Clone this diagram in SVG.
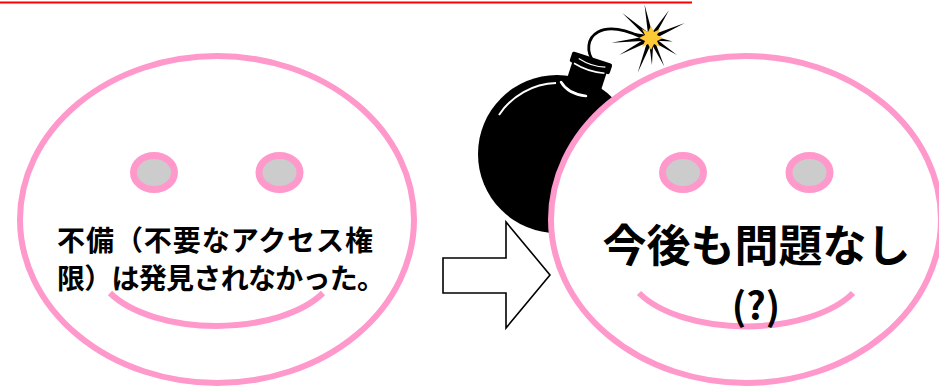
<svg xmlns="http://www.w3.org/2000/svg" width="939" height="387" viewBox="0 0 939 387">
  <style>
    .face { fill: #ffffff; stroke: #ff99cc; stroke-width: 6; }
    .eye { fill: #cccccc; stroke: #ff99cc; stroke-width: 7; }
    .mouth { fill: none; stroke: #ff99cc; stroke-width: 6; }
    .label { font-family: "Noto Sans CJK JP", "Liberation Sans", sans-serif; font-weight: bold; fill: #000000; }
    .arrow { fill: #ffffff; stroke: #000000; stroke-width: 1.6; stroke-linejoin: miter; }
    .spike { fill: #000000; }
  </style>

  <!-- Left smiley: current state -->
  <g id="face-now">
    <ellipse class="face" cx="217" cy="219.5" rx="197" ry="163.5"/>
    <ellipse class="eye" cx="154" cy="172.5" rx="20.5" ry="17"/>
    <ellipse class="eye" cx="279.5" cy="172.5" rx="20.5" ry="17"/>
    <path class="mouth" d="M110,293 A120,61 0 0 0 323,293"/>
    <text class="label" font-size="28" x="57" y="251" textLength="316" lengthAdjust="spacing">不備（不要なアクセス権</text>
    <text class="label" font-size="28" x="57" y="289" textLength="328" lengthAdjust="spacing">限）は発見されなかった。</text>
  </g>

  <!-- Block arrow between the two faces -->
  <g id="connectors">
    <polygon class="arrow" points="443,258 506,258 506,222 550,275 506,328 506,293 443,293"/>
  </g>

  <!-- Bomb with lit fuse, partly behind the right face -->
  <g id="bomb">
    <circle cx="557" cy="154" r="79" fill="#000000"/>
    <!-- neck and cap -->
    <g transform="rotate(18 588 72)">
      <rect x="570" y="66" width="36" height="22" fill="#000000"/>
      <rect x="567" y="57" width="42" height="11" rx="2" fill="#000000"/>
      <path d="M572,68 Q588,72 604,68" fill="none" stroke="#ffffff" stroke-width="1.5"/>
      <path d="M575,62 Q590,66 603,62" fill="none" stroke="#ffffff" stroke-width="1.2"/>
    </g>
    <!-- highlights -->
    <path d="M499,115 A71,71 0 0 1 556,83" fill="none" stroke="#ffffff" stroke-width="2"/>
    <path d="M561,82 Q568,94 586,96" fill="none" stroke="#ffffff" stroke-width="2.5" stroke-linecap="round"/>
    <path d="M607,83 L627,88" fill="none" stroke="#ffffff" stroke-width="1.5"/>
    <!-- fuse -->
    <path d="M594,62 C586,52 587,38 598,32 C609,26 626,30 641,37" fill="none" stroke="#000000" stroke-width="2.8" stroke-linecap="round"/>
    <!-- spark -->
    <g transform="translate(651 38)">
      <polygon class="spike" points="0,-2.5 34,0 0,2.5" transform="rotate(-101)"/>
      <polygon class="spike" points="0,-2.5 38,0 0,2.5" transform="rotate(-139)"/>
      <polygon class="spike" points="0,-2.5 33,0 0,2.5" transform="rotate(-57)"/>
      <polygon class="spike" points="0,-2.5 37,0 0,2.5" transform="rotate(-24)"/>
      <polygon class="spike" points="0,-2.5 22,0 0,2.5" transform="rotate(9)"/>
      <polygon class="spike" points="0,-2.5 31,0 0,2.5" transform="rotate(33)"/>
      <polygon class="spike" points="0,-2.5 31,0 0,2.5" transform="rotate(65)"/>
      <polygon class="spike" points="0,-2.5 27,0 0,2.5" transform="rotate(88)"/>
      <polygon class="spike" points="0,-2.5 37,0 0,2.5" transform="rotate(111)"/>
      <polygon class="spike" points="0,-2.5 36,0 0,2.5" transform="rotate(152)"/>
      <polygon class="spike" points="0,-2.5 40,0 0,2.5" transform="rotate(173)"/>
      <polygon class="spike" points="0,-2.5 25,0 0,2.5" transform="rotate(-166)"/>
      <polygon fill="#ffc835" points="0,-12 3,-6 9,-9 6,-3 12,0 6,3 9,9 3,6 0,12 -3,6 -9,9 -6,3 -12,0 -6,-3 -9,-9 -3,-6"/>
    </g>
  </g>

  <!-- Right smiley: outlook -->
  <g id="face-future">
    <ellipse class="face" cx="746" cy="219.5" rx="195" ry="163.5"/>
    <ellipse class="eye" cx="683" cy="172.5" rx="20.5" ry="17"/>
    <ellipse class="eye" cx="809.5" cy="172.5" rx="20.5" ry="17"/>
    <path class="mouth" d="M639,293 A120,61 0 0 0 853,293"/>
    <text class="label" font-size="44" x="756.5" y="262" text-anchor="middle">今後も問題なし</text>
    <text class="label" font-size="38" x="756" y="320" text-anchor="middle">(?)</text>
  </g>

  <!-- Red underline along the top edge -->
  <rect x="0" y="1.5" width="692" height="2" fill="#ff0000"/>
</svg>
